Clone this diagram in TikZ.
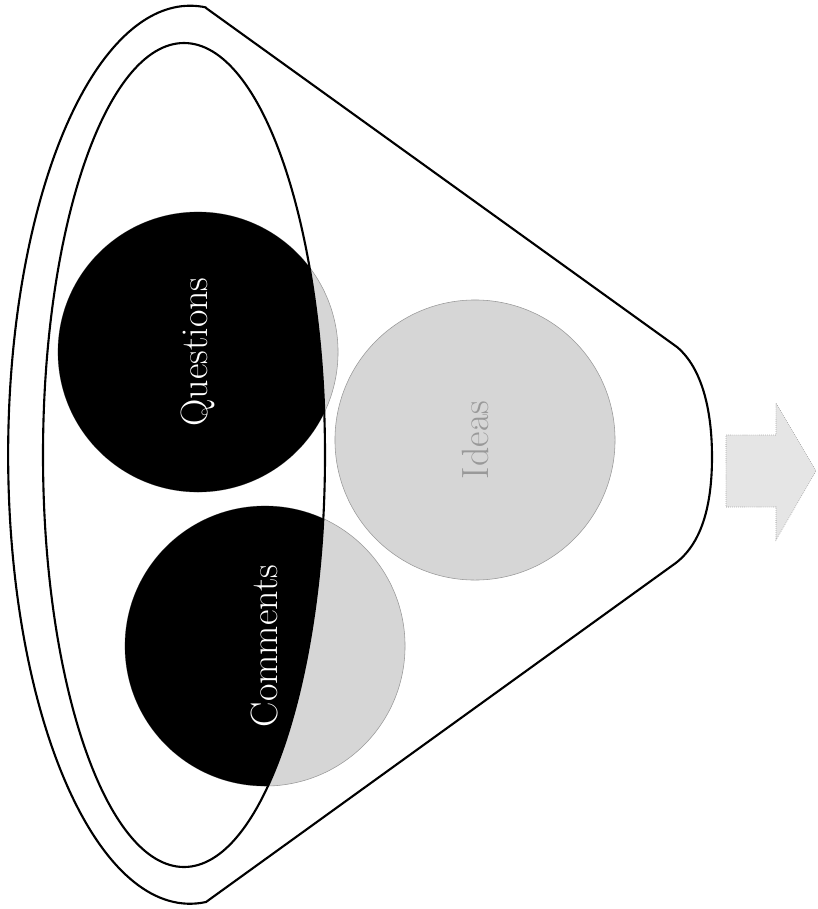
\documentclass[tikz,border=0pt]{standalone}
\usetikzlibrary{positioning}

\tikzset{
  funnel line/.style={line width=1.5pt, line join=round},
  disc/.style={circle, fill=black!16, draw=black!40, thin, minimum size=7cm, inner sep=0pt},
  disc label/.style={rotate=90, inner sep=0pt, font=\fontsize{27}{32}\selectfont},
}

\begin{document}
\begin{tikzpicture}[x=0.025cm, y=-0.025cm]
	\useasboundingbox (0,0) rectangle (817,909);

	% the three discs, grey
	\node[disc] (qdisc) at (198,352) {};
	\node[disc] (cdisc) at (265,646) {};
	\node[disc] (idisc) at (475,440) {};

	% black where the discs fall inside the mouth
	\begin{scope}
		\clip (184,455) ellipse[x radius=141, y radius=412];
		\fill[black] (qdisc.center) circle (140);
		\fill[black] (cdisc.center) circle (140);
	\end{scope}

	\node[disc label, text=white] (qlabel) at (qdisc) {Questions};
	\node[disc label, text=white] (clabel) at (cdisc) {Comments};
	\node[disc label, text=black!40] (ilabel) at (idisc) {Ideas};

	% mouth and body of the funnel
	\draw[funnel line] (184,455) ellipse[x radius=141, y radius=412];
	\draw[funnel line] (206,8) -- (677,347)
		.. controls (702,368) and (712,410) .. (712,457)
		.. controls (712,505) and (702,545) .. (673,565)
		-- (206,902) arc[start angle=85, end angle=275, x radius=182, y radius=449] -- cycle;

	% output arrow
	\draw[fill=black!10, draw=black!45, densely dotted] (726,435) -- (776,435) -- (776,403) -- (816,471)
		-- (776,540) -- (776,507) -- (726,507) -- cycle;
\end{tikzpicture}
\end{document}
